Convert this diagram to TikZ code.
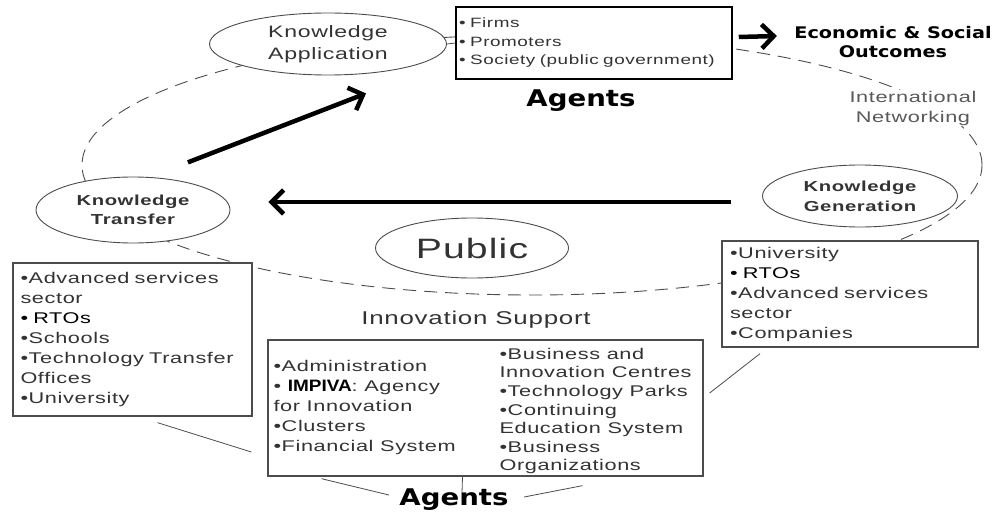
\documentclass[tikz,border=0pt]{standalone}
\usepackage{fontspec}
\setmainfont{Liberation Sans}[FakeStretch=1.4, LetterSpace=4]
\newfontfamily\headfont{DejaVu Sans}[FakeStretch=1.2]
\newfontfamily\plainfont{Liberation Sans}[FakeStretch=1.15]
\usepackage{tikz}
\usetikzlibrary{shapes.geometric, arrows.meta}
\definecolor{txt}{gray}{0.2}
\definecolor{edge}{gray}{0.3}
\tikzstyle{stage} = [ellipse, draw=edge, line width=0.9pt, fill=white, align=center, inner sep=0pt, text=txt]
\tikzstyle{agentbox} = [rectangle, draw=edge, line width=1.3pt, fill=white, align=left, text=txt, font=\fontsize{15.5}{20}\selectfont]
\tikzstyle{heading} = [align=center, text=black, font=\headfont\bfseries\fontsize{16}{19}\selectfont]
\tikzstyle{agents} = [text=black, font=\headfont\bfseries\fontsize{23}{26}\selectfont]
\tikzstyle{arrow} = [line width=4.5pt, -{Straight Barb[length=12pt, width=24pt]}]
\tikzstyle{link} = [draw=edge, line width=0.8pt]
\tikzstyle{cycleline} = [draw=edge, line width=0.9pt, dash pattern=on 13pt off 8pt]
\newcommand{\bul}{\textbullet}
\newcommand{\acronym}[1]{{\color{black}\plainfont\bfseries\fontsize{16.5}{20}\selectfont #1}}

\begin{document}
\begin{tikzpicture}[x=1pt, y=-1pt, node distance=58pt]
\useasboundingbox (0,0) rectangle (995,516);

\draw [cycleline] (532,165) ellipse [x radius=450pt, y radius=130pt];

\node (ka) [stage, minimum width=237pt, minimum height=62pt, font=\fontsize{16.5}{22}\selectfont] at (328,44) {Knowledge\\Application};
\node (kt) [stage, minimum width=194pt, minimum height=66pt, font=\bfseries\fontsize{14.5}{19}\selectfont] at (133,210) {Knowledge\\Transfer};
\node (kg) [stage, minimum width=195pt, minimum height=62pt, font=\bfseries\fontsize{14.5}{20}\selectfont] at (860,196) {Knowledge\\Generation};
\node (public) [stage, minimum width=193pt, minimum height=60pt, font=\fontsize{28}{32}\selectfont] at (472,248) {Public};

\node (firms) [agentbox, draw=black, line width=1.5pt, minimum width=276pt, minimum height=72pt, text width=270pt, inner xsep=3pt, font=\fontsize{13.5}{18.5}\selectfont] at (594,43) {\bul{} Firms\\\bul{} Promoters\\\bul{} Society (public government)};
\node (agentsTop) [agents, below of=firms, xshift=-13pt] {Agents};
\node (econ) [heading] at (893,42) {Economic \& Social\\Outcomes};
\node (network) [fill=white, align=center, text=black!65, inner sep=1pt, font=\fontsize{15.5}{20}\selectfont] at (913,108) {International\\Networking};

\node (ktbox) [agentbox, minimum width=239pt, minimum height=153pt, text width=224pt, inner xsep=7.5pt] at (132.5,339.5) {\bul Advanced services\\sector\\{\color{black}\bul{} RTOs}\\\bul Schools\\\bul Technology Transfer\\Offices\\\bul University};
\node (univ) [agentbox, minimum width=256pt, minimum height=106pt, text width=240pt, inner xsep=8pt] at (850,294) {\bul University\\{\color{black}\bul{} RTOs}\\\bul Advanced services\\sector\\\bul Companies};

\node (innov) [text=txt, font=\fontsize{18.5}{22}\selectfont] at (476,320) {Innovation Support};
\node (support) [agentbox, minimum width=435pt, minimum height=136pt] at (485.5,408) {};
\node (supportL) [anchor=west, align=left, text=txt, font=\fontsize{15.5}{20}\selectfont] at (270,407.5) {\bul Administration\\\bul{} \acronym{IMPIVA}: Agency\\for Innovation\\\bul Clusters\\\bul Financial System};
\node (supportR) [anchor=west, align=left, text=txt, font=\fontsize{15.5}{18.6}\selectfont] at (496,411) {\bul Business and\\Innovation Centres\\\bul Technology Parks\\\bul Continuing\\Education System\\\bul Business\\Organizations};
\node (agentsBottom) [agents] at (454,500) {Agents};

\draw [arrow] ([xshift=-14pt, yshift=24pt]kt.north east) -- ([xshift=38pt, yshift=-18pt]ka.south);
\draw [arrow] ([xshift=-31pt, yshift=-6pt]kg.west) -- ([xshift=38pt, yshift=8pt]kt.east);
\draw [arrow, line width=4.5pt, -{Straight Barb[length=12pt, width=24pt]}] ([xshift=6pt, yshift=6pt]firms.east) -- ([xshift=-14pt, yshift=6pt]econ.west);

\draw [link] (ka.east) -- (firms.west);
\draw [link] ([xshift=25pt, yshift=-6pt]ktbox.south) -- ([xshift=-16pt, yshift=-44pt]support.west);
\draw [link] ([xshift=6pt, yshift=15pt]support.east) -- ([xshift=-90pt, yshift=-6pt]univ.south);
\draw [link] ([xshift=54pt, yshift=-2pt]support.south west) -- ([xshift=-7pt, yshift=5pt]agentsBottom.west);
\draw [link] ([xshift=-23pt]support.south) -- ([xshift=8pt, yshift=-7pt]agentsBottom.north);
\draw [link] ([xshift=97pt, yshift=-9pt]support.south) -- ([xshift=12pt, yshift=3pt]agentsBottom.east);
\end{tikzpicture}
\end{document}
